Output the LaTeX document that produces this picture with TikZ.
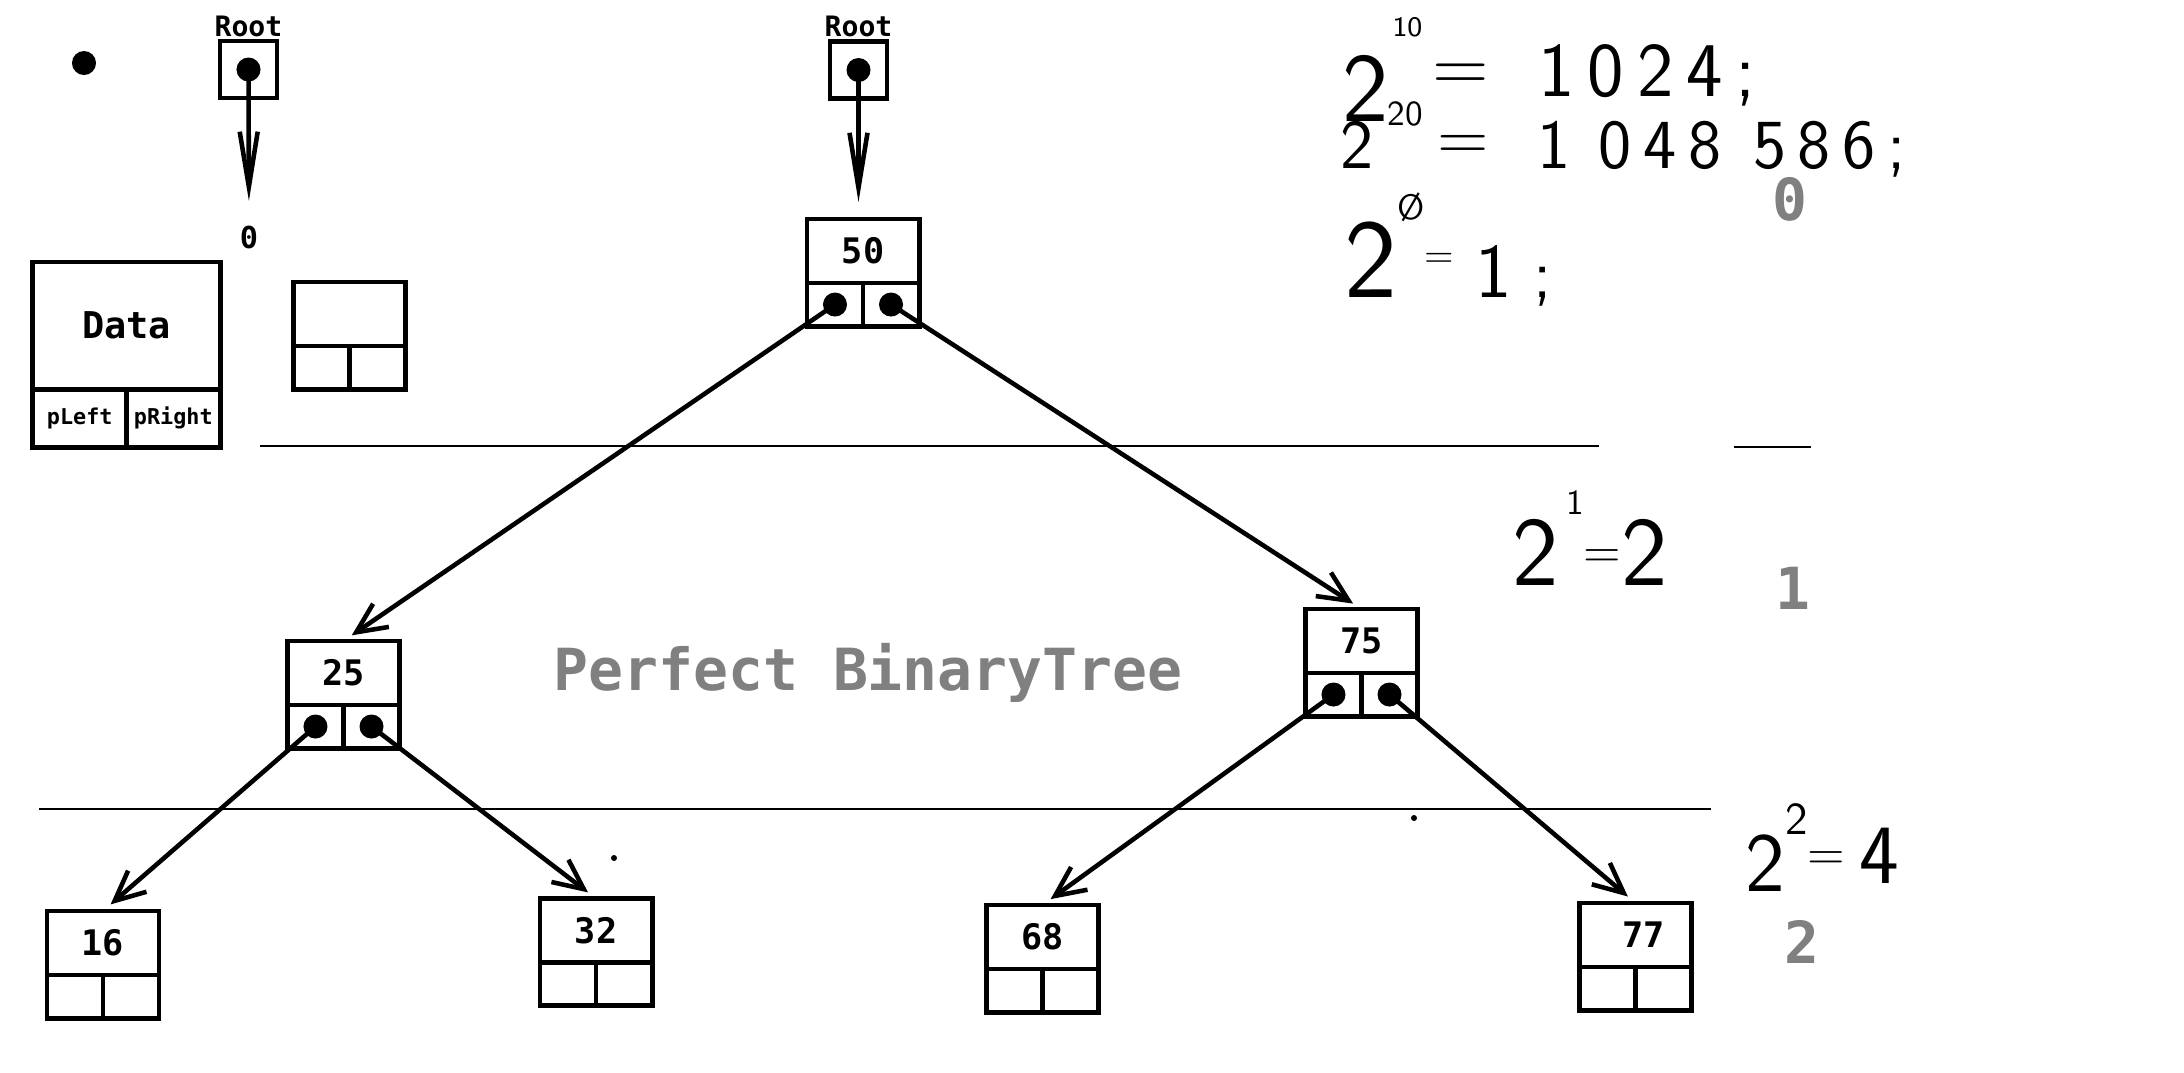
\documentclass[tikz,border=0pt]{standalone}
\usepackage{fontspec}
\setmonofont{DejaVu Sans Mono}
\usetikzlibrary{arrows.meta,positioning}
\definecolor{lvlgray}{RGB}{128,128,128}
\tikzset{
    valbox/.style={draw, line width=1.4pt, outer sep=0pt, inner sep=0pt, minimum width=1.12cm, minimum height=0.64cm, font=\ttfamily\bfseries\fontsize{10}{10}\selectfont},
    ptrcell/.style={draw, line width=1.4pt, outer sep=0pt, inner sep=0pt, minimum width=0.56cm, minimum height=0.43cm},
    databox/.style={valbox, minimum width=1.87cm, minimum height=1.27cm, font=\ttfamily\bfseries\fontsize{10.5}{10.5}\selectfont},
    datacell/.style={ptrcell, minimum width=0.935cm, minimum height=0.58cm, font=\ttfamily\bfseries\fontsize{6.2}{6.2}\selectfont},
    rootbox/.style={draw, line width=1.4pt, outer sep=0pt, minimum size=0.57cm},
    rootlbl/.style={inner sep=1pt, font=\ttfamily\bfseries\fontsize{8}{8}\selectfont},
    ptr/.style={line width=1.3pt, -{Straight Barb[length=3mm,width=2.8mm]}, shorten >=1mm},
    rootptr/.style={line width=1.3pt, -{Straight Barb[length=5.5mm,width=1.8mm]}},
    lvl/.style={text=lvlgray, inner sep=0pt, font=\ttfamily\bfseries\fontsize{16.5}{16.5}\selectfont},
    hand/.style={inner sep=0pt, anchor=base west, font=\sffamily},
    guide/.style={line width=0.5pt}
}

\begin{document}
\begin{tikzpicture}[x=0.01cm, y=-0.01cm]
    \fill [white] (0, 0) rectangle (2184, 1072);
    \useasboundingbox (0, 0) rectangle (2184, 1072);

    \fill (84, 63) circle [radius=1.2mm];

    \node [rootbox] (root1) at (248.5, 69.5) {};
    \node [rootlbl, above=0pt of root1] (root1lbl) {Root};
    \node [rootlbl, inner sep=0pt, font=\ttfamily\bfseries\fontsize{8.6}{8.6}\selectfont] (null) at (249, 237) {0};
    \fill (root1) circle [radius=1.2mm];
    \draw [rootptr, shorten >=2.4mm] (root1.center) -- (null.north);

    \node [databox] (data) at (126.5, 325.5) {Data};
    \node [datacell, anchor=north west] (dleft) at (data.south west) {pLeft};
    \node [datacell, anchor=north east] (dright) at (data.south east) {pRight};

    \node [valbox] (blank) at (349.5, 314) {};
    \node [ptrcell, anchor=north west] (blankl) at (blank.south west) {};
    \node [ptrcell, anchor=north east] (blankr) at (blank.south east) {};

    \node [rootbox] (root2) at (858.5, 70) {};
    \node [rootlbl, above=0pt of root2] (root2lbl) {Root};
    \fill (root2) circle [radius=1.2mm];

    \node [valbox] (n50) at (863, 251) {50};
    \node [ptrcell, anchor=north west] (n50l) at (n50.south west) {};
    \node [ptrcell, anchor=north east] (n50r) at (n50.south east) {};

    \node [valbox] (n25) at (343.5, 673) {25};
    \node [ptrcell, anchor=north west] (n25l) at (n25.south west) {};
    \node [ptrcell, anchor=north east] (n25r) at (n25.south east) {};

    \node [valbox] (n75) at (1361.5, 641) {75};
    \node [ptrcell, anchor=north west] (n75l) at (n75.south west) {};
    \node [ptrcell, anchor=north east] (n75r) at (n75.south east) {};

    \node [valbox] (n16) at (103, 943) {16};
    \node [ptrcell, anchor=north west] (n16l) at (n16.south west) {};
    \node [ptrcell, anchor=north east] (n16r) at (n16.south east) {};

    \node [valbox] (n32) at (596, 930.5) {32};
    \node [ptrcell, anchor=north west] (n32l) at (n32.south west) {};
    \node [ptrcell, anchor=north east] (n32r) at (n32.south east) {};

    \node [valbox] (n68) at (1042.5, 937) {68};
    \node [ptrcell, anchor=north west] (n68l) at (n68.south west) {};
    \node [ptrcell, anchor=north east] (n68r) at (n68.south east) {};

    \node [valbox] (n77) at (1635.5, 935) {\hspace{1.6mm}77};
    \node [ptrcell, anchor=north west] (n77l) at (n77.south west) {};
    \node [ptrcell, anchor=north east] (n77r) at (n77.south east) {};

    \fill (n50l) circle [radius=1.2mm];
    \fill (n50r) circle [radius=1.2mm];
    \fill (n25l) circle [radius=1.2mm];
    \fill (n25r) circle [radius=1.2mm];
    \fill (n75l) circle [radius=1.2mm];
    \fill (n75r) circle [radius=1.2mm];

    \draw [rootptr, shorten >=1.7mm] (root2.center) -- (root2.center |- n50.north);
    \draw [ptr] (n50l.center) -- (n25.north);
    \draw [ptr] (n50r.center) -- (n75.north);
    \draw [ptr] (n25l.center) -- (n16.north);
    \draw [ptr] (n25r.center) -- (n32.north);
    \draw [ptr] (n75l.center) -- (n68.north);
    \draw [ptr] (n75r.center) -- (n77.north);

    \draw [guide] (260, 446) -- (1599, 446);
    \draw [guide] (1734, 447) -- (1811, 447);
    \draw [guide] (39, 809) -- (1711, 809);

    \fill (614, 858) circle [radius=0.3mm];
    \fill (1414, 818) circle [radius=0.3mm];

    \node [lvl] (title) at (868, 673) {Perfect BinaryTree};
    \node [lvl] (lvl0) at (1790, 199) {0};
    \node [lvl] (lvl1) at (1793, 588) {1};
    \node [lvl] (lvl2) at (1802, 942) {2};

    \node [hand] (pow10) at (1342, 121) {\fontsize{28}{28}\selectfont 2\hspace{1pt}\raisebox{24pt}{\fontsize{8}{8}\selectfont 10}\hspace{3pt}\raisebox{8.5pt}{\fontsize{22}{22}\selectfont =}\hspace{14pt}\raisebox{7pt}{\fontsize{22}{22}\selectfont 1\,0\,2\,4\,;}};
    \node [hand] (pow20) at (1340, 168) {\fontsize{20}{20}\selectfont 2\hspace{4pt}\raisebox{12pt}{\fontsize{10}{10}\selectfont 20}\hspace{4pt}\raisebox{2pt}{=}\hspace{14pt}1\hspace{8pt}0\,4\,8\hspace{9pt}5\,8\,6\,;};
    \node [hand] (pow0) at (1344, 297) {\fontsize{32}{32}\selectfont 2\raisebox{22pt}{\fontsize{10}{10}\selectfont Ø}\raisebox{8.3pt}{\fontsize{11}{11}\selectfont =}\hspace{6pt}{\fontsize{22}{22}\selectfont 1}\hspace{6pt}{\fontsize{20}{20}\selectfont ;}};
    \node [hand] (pow1) at (1512, 585) {\fontsize{28}{28}\selectfont 2\hspace{2pt}\raisebox{20pt}{\fontsize{10}{10}\selectfont 1}\raisebox{5pt}{\fontsize{14}{14}\selectfont =}2};
    \node [hand] (pow2) at (1745, 891) {\fontsize{24}{24}\selectfont 2\raisebox{16pt}{\fontsize{13}{13}\selectfont 2}\raisebox{6pt}{\fontsize{14}{14}\selectfont =}\,\raisebox{2pt}{4}};
\end{tikzpicture}
\end{document}
